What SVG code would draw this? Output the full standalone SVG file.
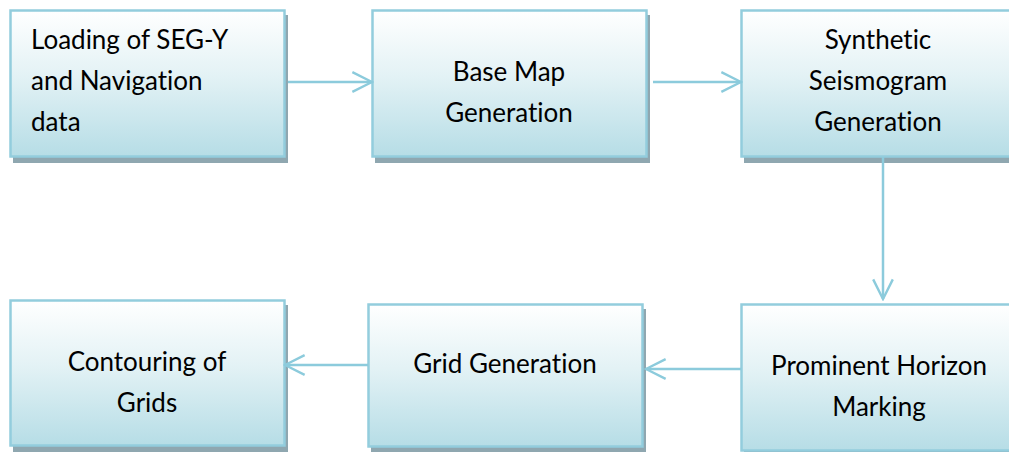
<svg xmlns="http://www.w3.org/2000/svg" width="1009" height="452" viewBox="0 0 1009 452">
<defs>
<linearGradient id="g" x1="0" y1="0" x2="0" y2="1">
<stop offset="0" stop-color="#ffffff"/>
<stop offset="0.45" stop-color="#e3f2f5"/>
<stop offset="1" stop-color="#b6dde6"/>
</linearGradient>
<marker id="a" markerUnits="userSpaceOnUse" markerWidth="24" markerHeight="24" viewBox="-2 -11 22 22" refX="18" refY="0" orient="auto">
<path d="M0,-9 L18,0 L0,9" fill="none" stroke="#8ccbdc" stroke-width="2.2"/>
</marker>
</defs>
<style>
.sh{fill:#8fa7b0}
.bx{fill:url(#g);stroke:#93cddd;stroke-width:2.5}
.t{font-family:Lato,"Open Sans","Liberation Sans",sans-serif;font-size:26px;fill:#000;font-variant-ligatures:none}
.c{text-anchor:middle}
.ln{stroke:#8ccbdc;stroke-width:2.5;fill:none;marker-end:url(#a)}
</style>
<rect width="1009" height="452" fill="#fff"/>
<g id="n1">
<rect class="sh" x="13" y="15" width="275" height="148"/>
<rect class="bx" x="10.5" y="10.5" width="274" height="146"/>
<text class="t" x="31" y="49">Loading of SEG-Y</text>
<text class="t" x="31" y="90">and Navigation</text>
<text class="t" x="31" y="131">data</text>
</g>
<g id="n2">
<rect class="sh" x="375" y="15" width="275" height="148"/>
<rect class="bx" x="372.5" y="10.5" width="274" height="146"/>
<text class="t c" x="509" y="81">Base Map</text>
<text class="t c" x="509" y="122">Generation</text>
</g>
<g id="n3">
<rect class="sh" x="744" y="15" width="275" height="148"/>
<rect class="bx" x="741.5" y="10.5" width="280" height="146"/>
<text class="t c" x="878" y="49">Synthetic</text>
<text class="t c" x="878" y="90">Seismogram</text>
<text class="t c" x="878" y="131">Generation</text>
</g>
<g id="n4">
<rect class="sh" x="744" y="309" width="275" height="148"/>
<rect class="bx" x="741.5" y="304.5" width="280" height="146"/>
<text class="t c" x="879" y="375">Prominent Horizon</text>
<text class="t c" x="879" y="416">Marking</text>
</g>
<g id="n5">
<rect class="sh" x="371" y="309" width="275" height="144"/>
<rect class="bx" x="368.5" y="304.5" width="274" height="142"/>
<text class="t c" x="505" y="373">Grid Generation</text>
</g>
<g id="n6">
<rect class="sh" x="13" y="305" width="275" height="147"/>
<rect class="bx" x="10.5" y="300.5" width="274" height="145"/>
<text class="t c" x="147" y="371">Contouring of</text>
<text class="t c" x="147" y="412">Grids</text>
</g>
<g id="connectors">
<line class="ln" x1="288" y1="82" x2="372" y2="82"/>
<line class="ln" x1="653" y1="82" x2="741" y2="82"/>
<line class="ln" x1="883" y1="157" x2="883" y2="299"/>
<line class="ln" x1="741" y1="369" x2="646" y2="369"/>
<line class="ln" x1="368" y1="365" x2="285" y2="365"/>
</g>
</svg>
